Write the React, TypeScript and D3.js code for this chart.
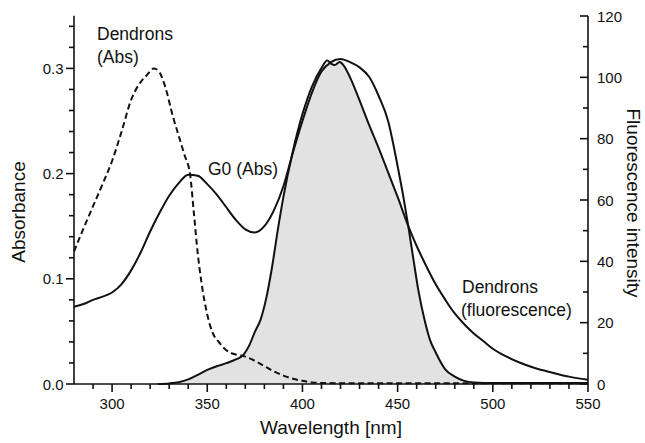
import React from "react";
import * as d3 from "d3";

// ---- data ----
const g0Wavelength = [280,285,290,295,300,305,310,315,320,325,330,335,340,345,350,355,360,365,370,375,380,385,390,395,400,405,410,415,420,425,430,435,440,445,450,453,455.6,458,461,464,467,470,475,480,485,490,500,520,550];
const g0Abs = [0.0735,0.076,0.080,0.083,0.087,0.095,0.108,0.125,0.145,0.163,0.179,0.191,0.199,0.198,0.190,0.180,0.168,0.156,0.147,0.144,0.150,0.165,0.188,0.220,0.250,0.277,0.297,0.306,0.309,0.306,0.301,0.292,0.274,0.250,0.207,0.178,0.150,0.122,0.088,0.062,0.042,0.030,0.014,0.007,0.003,0.0015,0.001,0.001,0.001];

const denWavelength = [280,285,290,295,300,305,310,315,318,322,325,328,332,335,338,341,343,345,347,350,353,356,360,365,370,375,380,385,390,395,400,405,410,420,450,500,550];
const denAbs = [0.126,0.148,0.169,0.190,0.212,0.240,0.270,0.287,0.293,0.300,0.296,0.282,0.254,0.236,0.218,0.199,0.162,0.124,0.096,0.066,0.048,0.040,0.032,0.028,0.026,0.022,0.017,0.012,0.008,0.005,0.003,0.0015,0.001,0.0008,0.0008,0.0008,0.0008];

const flWavelength = [324,330,335,340,345,350,355,360,365,369,372,375,378,381,384,387,390,395,400,405,410,413,415,417,419.5,421.5,425,430,435,440,445,450,455.6,460,465,470,475,480,485,490,495,500,507,514,522,532,540,550];
const flIntensity = [0,0.2,0.6,1.5,3.0,4.6,5.8,6.8,8.0,9.5,12.5,17,21,28,38,50,61,76,88,97,103,105.5,104.5,104,105,104,100,92.5,84.5,77,69,61,51.5,45,38.5,32.5,27.5,23,19.5,16.5,14,11.5,9,7,5.2,3.6,2.4,1.4];

const xMajorTicks = [300,350,400,450,500,550];
const xMinorTicks = [290,310,320,330,340,360,370,380,390,410,420,430,440,460,470,480,490,510,520,530,540];
const leftMajorTicks = [0,0.1,0.2,0.3];
const leftMinorTicks = [0.02,0.04,0.06,0.08,0.12,0.14,0.16,0.18,0.22,0.24,0.26,0.28,0.32,0.34];
const rightMajorTicks = [0,20,40,60,80,100,120];
const rightMinorTicks = [10,30,50,70,90,110];

const FONT = "'Liberation Sans', Arial, Helvetica, sans-serif";

export default function App() {
  const x = d3.scaleLinear().domain([280,550]).range([74,588]);
  const yL = d3.scaleLinear().domain([0,0.35]).range([384,15.8]);
  const yR = d3.scaleLinear().domain([0,120]).range([384,16]);
  const base = yL(0);

  const g0Pts = g0Wavelength.map((w,i)=>[w,g0Abs[i]] as [number,number]);
  const denPts = denWavelength.map((w,i)=>[w,denAbs[i]] as [number,number]);
  const flPts = flWavelength.map((w,i)=>[w,flIntensity[i]] as [number,number]);

  const curve = d3.curveMonotoneX;
  const lineL = d3.line<[number,number]>().x(d=>x(d[0])).y(d=>yL(d[1])).curve(curve);
  const lineR = d3.line<[number,number]>().x(d=>x(d[0])).y(d=>yR(d[1])).curve(curve);
  const areaL = d3.area<[number,number]>().x(d=>x(d[0])).y0(base).y1(d=>yL(d[1])).curve(curve);
  const areaR = d3.area<[number,number]>().x(d=>x(d[0])).y0(base).y1(d=>yR(d[1])).curve(curve);

  const tickText = { fontFamily: FONT, fontSize: 15, fill: "#111" };
  const annot = { fontFamily: FONT, fontSize: 17.5, fill: "#111" };

  return (
    <svg width={645} height={443} style={{position:"absolute",left:0,top:0,background:"#fff"}}>
      <defs>
        <clipPath id="g0clip">
          <path d={areaL(g0Pts) || ""} />
        </clipPath>
      </defs>
      <path d={areaR(flPts) || ""} fill="#e2e2e2" clipPath="url(#g0clip)" />

      <path d={lineL(g0Pts) || ""} fill="none" stroke="#111" strokeWidth={2} />
      <path d={lineR(flPts) || ""} fill="none" stroke="#111" strokeWidth={2} />
      <path d={lineL(denPts) || ""} fill="none" stroke="#111" strokeWidth={2} strokeDasharray="6,3.5" />

      {/* axes */}
      <g stroke="#111" strokeWidth={1.6}>
        <line x1={74} x2={74} y1={15.8} y2={base} />
        <line x1={588} x2={588} y1={16} y2={base} />
        <line x1={74} x2={588} y1={base} y2={base} />
        {xMajorTicks.map(t=>(<line key={"xm"+t} x1={x(t)} x2={x(t)} y1={base} y2={base+8} />))}
        {xMinorTicks.map(t=>(<line key={"xn"+t} x1={x(t)} x2={x(t)} y1={base} y2={base+5} />))}
        {leftMajorTicks.map(t=>(<line key={"lm"+t} x1={74} x2={66} y1={yL(t)} y2={yL(t)} />))}
        {leftMinorTicks.map(t=>(<line key={"ln"+t} x1={74} x2={69} y1={yL(t)} y2={yL(t)} />))}
        {rightMajorTicks.map(t=>(<line key={"rm"+t} x1={588} x2={580} y1={yR(t)} y2={yR(t)} />))}
        {rightMinorTicks.map(t=>(<line key={"rn"+t} x1={588} x2={583} y1={yR(t)} y2={yR(t)} />))}
      </g>

      {xMajorTicks.map(t=>(<text key={"xl"+t} x={x(t)} y={409} textAnchor="middle" {...tickText}>{t}</text>))}
      {leftMajorTicks.map(t=>(<text key={"ll"+t} x={63.5} y={yL(t)+5.5} textAnchor="end" {...tickText}>{t.toFixed(1)}</text>))}
      {rightMajorTicks.map(t=>(<text key={"rl"+t} x={597} y={yR(t)+5.5} textAnchor="start" {...tickText}>{t}</text>))}

      <text x={331} y={434} textAnchor="middle" fontFamily={FONT} fontSize={19} fill="#111">Wavelength [nm]</text>
      <text transform="translate(25,212) rotate(-90)" textAnchor="middle" fontFamily={FONT} fontSize={19} fill="#111">Absorbance</text>
      <text transform="translate(627,203) rotate(90)" textAnchor="middle" fontFamily={FONT} fontSize={19} fill="#111">Fluorescence intensity</text>

      <text x={97} y={40} {...annot}>Dendrons</text>
      <text x={97} y={63} {...annot}>(Abs)</text>
      <text x={208} y={175} {...annot}>G0 (Abs)</text>
      <text x={462} y={293} {...annot}>Dendrons</text>
      <text x={461} y={316} {...annot}>(fluorescence)</text>
    </svg>
  );
}
